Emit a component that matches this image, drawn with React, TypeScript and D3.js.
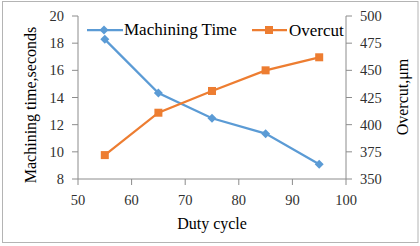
import React from 'react';
import * as d3 from 'd3';

const dutyCycle = [55, 65, 75, 85, 95];
const machiningTime = [18.28, 14.33, 12.47, 11.34, 9.08];
const overcut = [372, 411, 431, 450, 462];
const xTicks = [50, 60, 70, 80, 90, 100];
const leftTicks = [8, 10, 12, 14, 16, 18, 20];
const rightTicks = [350, 375, 400, 425, 450, 475, 500];

const W = 420;
const H = 246;
const blue = '#5B9BD5';
const orange = '#ED7D31';
const axisColor = '#8c8c8c';
const font = '"Liberation Serif", "Times New Roman", serif';

const App: React.FC = () => {
  const x = d3.scaleLinear().domain([50, 100]).range([78, 346]);
  const yL = d3.scaleLinear().domain([8, 20]).range([179, 16]);
  const yR = d3.scaleLinear().domain([350, 500]).range([179, 16]);

  const lineL = d3.line<number>().x((_, i) => x(dutyCycle[i])).y(d => yL(d));
  const lineR = d3.line<number>().x((_, i) => x(dutyCycle[i])).y(d => yR(d));

  const diamond = (cx: number, cy: number, r = 4.5) =>
    `M${cx},${cy - r}L${cx + r},${cy}L${cx},${cy + r}L${cx - r},${cy}Z`;

  return (
    <svg width={W} height={H} style={{ position: 'absolute', left: 0, top: 0 }} fontFamily={font}>
      <rect x={0} y={0} width={W} height={H} fill="#fff" />
      <rect x={2.5} y={1.5} width={415.5} height={241} fill="none" stroke="#b4b4b4" strokeWidth={1} />

      {/* left axis */}
      <line x1={x(50)} x2={x(50)} y1={yL(20)} y2={yL(8)} stroke={axisColor} />
      {leftTicks.map(t => (
        <g key={'l' + t}>
          <line x1={x(50) - 6} x2={x(50)} y1={yL(t)} y2={yL(t)} stroke={axisColor} />
          <text x={64} y={yL(t) + 5} textAnchor="end" fontSize={14.5} fill="#303030">{t}</text>
        </g>
      ))}
      {/* right axis */}
      <line x1={x(100)} x2={x(100)} y1={yR(500)} y2={yR(350)} stroke={axisColor} />
      {rightTicks.map(t => (
        <g key={'r' + t}>
          <line x1={x(100)} x2={x(100) + 6} y1={yR(t)} y2={yR(t)} stroke={axisColor} />
          <text x={360} y={yR(t) + 5} textAnchor="start" fontSize={14.5} fill="#303030">{t}</text>
        </g>
      ))}
      {/* x axis */}
      <line x1={x(50)} x2={x(100)} y1={yL(8)} y2={yL(8)} stroke={axisColor} />
      {xTicks.map(t => (
        <g key={'x' + t}>
          <line x1={x(t)} x2={x(t)} y1={yL(8)} y2={yL(8) + 6} stroke={axisColor} />
          <text x={x(t)} y={205} textAnchor="middle" fontSize={14.5} fill="#303030">{t}</text>
        </g>
      ))}

      {/* axis titles */}
      <text x={212} y={229} textAnchor="middle" fontSize={16} fill="#000">Duty cycle</text>
      <text transform={`translate(36,105) rotate(-90)`} textAnchor="middle" fontSize={16} fill="#000">
        Machining time,seconds
      </text>
      <text transform={`translate(408,97) rotate(-90)`} textAnchor="middle" fontSize={16} fill="#000">
        Overcut,μm
      </text>

      {/* series */}
      <path d={lineL(machiningTime) || ''} fill="none" stroke={blue} strokeWidth={2.25} />
      {machiningTime.map((v, i) => (
        <path key={'m' + i} d={diamond(x(dutyCycle[i]), yL(v))} fill={blue} />
      ))}
      <path d={lineR(overcut) || ''} fill="none" stroke={orange} strokeWidth={2.25} />
      {overcut.map((v, i) => (
        <rect key={'o' + i} x={x(dutyCycle[i]) - 4} y={yR(v) - 4} width={8} height={8} fill={orange} />
      ))}

      {/* legend */}
      <line x1={87} x2={123} y1={30} y2={30} stroke={blue} strokeWidth={2.25} />
      <path d={diamond(104, 30)} fill={blue} />
      <text x={124} y={35} fontSize={17} fill="#000">Machining Time</text>
      <line x1={252} x2={287} y1={30} y2={30} stroke={orange} strokeWidth={2.25} />
      <rect x={265} y={26} width={8} height={8} fill={orange} />
      <text x={289} y={36} fontSize={17} fill="#000">Overcut</text>
    </svg>
  );
};

export default App;
